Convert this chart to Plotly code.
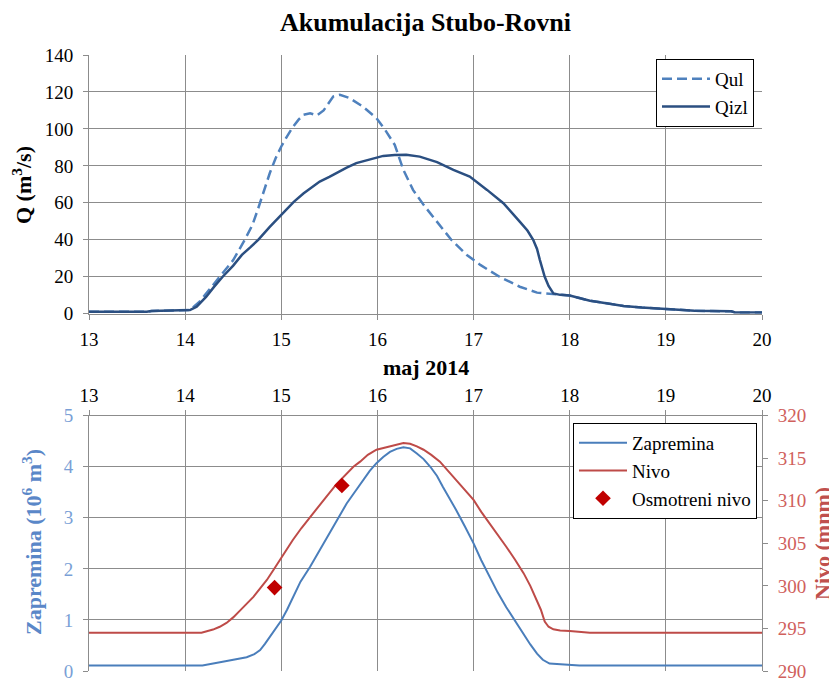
import plotly.graph_objects as go

# ---------------- data ----------------
qul_days = [13.0, 13.6, 13.65, 14.0, 14.05, 14.15, 14.25, 14.36, 14.5, 14.62, 14.70, 14.76, 14.82,
            14.88, 14.94, 15.0, 15.06, 15.12, 15.18, 15.23, 15.30, 15.37, 15.44, 15.54, 15.61, 15.71,
            15.85, 15.99, 16.08, 16.18, 16.27, 16.37, 16.48, 16.62, 16.77, 16.93, 17.07, 17.27, 17.48,
            17.66, 17.79, 17.9, 18.0, 18.1, 18.21, 18.28, 18.4, 18.56, 18.75, 19.01, 19.3, 19.68,
            19.72, 20.0]
qul_values = [1.0, 1.0, 1.5, 1.7, 2.0, 6.5, 13, 20, 29, 40, 48, 57, 67,
              76, 84, 90.5, 96, 101, 105, 107.6, 108.5, 107.3, 110, 117.5, 118.5, 116.7,
              112, 105.8, 99.5, 91.4, 77.8, 67, 58.9, 49.8, 39.9, 31.8, 26.4, 20, 14.6,
              11.4, 10.7, 10.2, 9.8, 8.5, 7.0, 6.5, 5.4, 4.2, 3.3, 2.4, 1.6, 1.3,
              0.7, 0.7]

qizl_days = [13.0, 13.6, 13.65, 14.0, 14.05, 14.12, 14.22, 14.3, 14.39, 14.5, 14.59, 14.68, 14.76,
             14.88, 15.04, 15.13, 15.23, 15.32, 15.40, 15.5, 15.57, 15.68, 15.78, 15.9, 16.06, 16.18,
             16.30, 16.44, 16.62, 16.79, 16.96, 17.14, 17.31, 17.48, 17.56, 17.62, 17.66, 17.69,
             17.74, 17.78, 17.83, 17.9, 18.0, 18.1, 18.21, 18.28, 18.4, 18.56, 18.75, 19.01, 19.3,
             19.68, 19.72, 20.0]
qizl_values = [1.0, 1.0, 1.5, 1.7, 2.0, 3.8, 9.2, 14.5, 20, 26, 31.8, 36, 40,
               47, 56, 60.5, 65, 68.5, 71.5, 74, 76, 79, 81.5, 83.3, 85.4, 85.9,
               86, 85, 82, 77.8, 74.2, 67, 59.8, 49.8, 45, 40, 35, 29,
               20, 15, 11, 10.2, 9.8, 8.5, 7.0, 6.5, 5.4, 4.2, 3.3, 2.4, 1.6,
               1.3, 0.7, 0.7]

zap_days = [13.0, 14.18, 14.39, 14.55, 14.64, 14.72, 14.78, 14.83, 14.88, 14.94, 15.0, 15.06, 15.12,
            15.2, 15.30, 15.40, 15.50, 15.59, 15.68, 15.77, 15.85, 15.92, 15.99, 16.06, 16.13, 16.2,
            16.27, 16.34, 16.41, 16.48, 16.55, 16.62, 16.68, 16.75, 16.82, 16.91, 17.0, 17.08, 17.17,
            17.25, 17.34, 17.43, 17.52, 17.59, 17.66, 17.72, 17.79, 18.0, 18.1, 20.0]
zap_values = [0.11, 0.11, 0.18, 0.24, 0.27, 0.33, 0.41, 0.53, 0.67, 0.83, 0.99, 1.2, 1.45,
              1.75, 2.04, 2.37, 2.69, 3.0, 3.28, 3.52, 3.74, 3.92, 4.07, 4.19, 4.29, 4.35,
              4.38, 4.36, 4.26, 4.15, 4.0, 3.82, 3.61, 3.39, 3.15, 2.83, 2.5, 2.17, 1.84,
              1.54, 1.25, 0.98, 0.73, 0.52, 0.34, 0.22, 0.145, 0.125, 0.11, 0.11]

nivo_days = [13.0, 14.17, 14.29, 14.36, 14.43, 14.50, 14.57, 14.64, 14.71, 14.78, 14.85, 14.92, 14.98,
             15.05, 15.12, 15.21, 15.30, 15.38, 15.47, 15.57, 15.68, 15.75, 15.82, 15.9, 15.99, 16.06,
             16.13, 16.2, 16.27, 16.34, 16.41, 16.48, 16.56, 16.65, 16.73, 16.82, 16.91, 17.0, 17.08,
             17.17, 17.25, 17.34, 17.43, 17.52, 17.59, 17.66, 17.70, 17.74, 17.78, 17.83, 17.9, 18.0,
             18.1, 18.21, 20.0]
nivo_values = [294.5, 294.5, 294.87, 295.2, 295.65, 296.3, 297.1, 297.9, 298.7, 299.7, 300.7, 301.9, 303.0,
               304.2, 305.4, 306.8, 308.1, 309.3, 310.5, 311.9, 313.2, 314.0, 314.6, 315.4, 316.0, 316.2,
               316.4, 316.6, 316.8, 316.7, 316.4, 316.0, 315.4, 314.6, 313.6, 312.4, 311.3, 310.1, 308.7,
               307.3, 306.0, 304.6, 303.1, 301.5, 300.0, 298.3, 297.2, 295.8, 295.2, 294.9, 294.75, 294.7,
               294.6, 294.5, 294.5]

osm_days = [14.93, 15.63]
osm_values = [299.8, 311.8]

day_ticks = [13, 14, 15, 16, 17, 18, 19, 20]

# ---------------- style / layout geometry ----------------
FONT = "Liberation Serif"
GRID = "#8C8C8C"
BLUE_L = "#4F81BD"
BLUE_D = "#2B4F81"
ZAP_C = "#4A7EBB"
NIV_C = "#BE4B48"
OSM_C = "#C00000"
LEFT_TICK_C = "#7A9FD6"
LEFT_TITLE_C = "#5A87C8"
RIGHT_TICK_C = "#D0605C"
RIGHT_TITLE_C = "#C0504D"

W, H = 837, 678
OFF = 8  # page body offset
ML, MR, MT, MB = 81, 83, 47, 15
PW = W - ML - MR
PH = H - MT - MB


def px(sx):
    return (sx - OFF - ML) / PW


def py(sy):
    return (H - MB - (sy - OFF)) / PH


fig = go.Figure()

fig.add_trace(go.Scatter(x=qul_days, y=qul_values, mode="lines", name="Qul",
                         line=dict(color=BLUE_L, width=2.5, dash="10px,5px"),
                         xaxis="x", yaxis="y", legend="legend"))
fig.add_trace(go.Scatter(x=qizl_days, y=qizl_values, mode="lines", name="Qizl",
                         line=dict(color=BLUE_D, width=2.5),
                         xaxis="x", yaxis="y", legend="legend"))

fig.add_trace(go.Scatter(x=zap_days, y=zap_values, mode="lines", name="Zapremina",
                         line=dict(color=ZAP_C, width=2),
                         xaxis="x2", yaxis="y2", legend="legend2"))
fig.add_trace(go.Scatter(x=nivo_days, y=nivo_values, mode="lines", name="Nivo",
                         line=dict(color=NIV_C, width=2),
                         xaxis="x2", yaxis="y3", legend="legend2"))
fig.add_trace(go.Scatter(x=osm_days, y=osm_values, mode="markers", name="Osmotreni nivo",
                         marker=dict(symbol="diamond", size=12, color=OSM_C),
                         xaxis="x2", yaxis="y3", legend="legend2"))

tickfont = dict(family=FONT, size=19, color="black")

xcommon = dict(range=[13, 20], tickvals=day_ticks, showgrid=True, gridcolor=GRID, gridwidth=1,
               showline=True, linecolor=GRID, linewidth=1, ticks="outside", ticklen=5,
               tickcolor=GRID, zeroline=False, tickfont=tickfont, domain=[0, 1],
               automargin=False)

top_dom = [py(313.7), 1.0]
bot_dom = [0.0, py(415.7)]

fig.update_layout(
    width=W, height=H,
    margin=dict(l=ML, r=MR, t=MT, b=MB, autoexpand=False),
    paper_bgcolor="white", plot_bgcolor="white",
    font=dict(family=FONT, size=19, color="black"),
    title=dict(text="<b>Akumulacija Stubo-Rovni</b>", x=0.5, xref="paper",
               y=1 - (22 - OFF) / H, yref="container", yanchor="middle", xanchor="center",
               font=dict(family=FONT, size=26, color="black")),
    xaxis=dict(**xcommon, anchor="y", ticklabelstandoff=3),
    yaxis=dict(domain=top_dom, range=[0, 140], dtick=20, showgrid=True, gridcolor=GRID,
               showline=True, linecolor=GRID, ticks="outside", ticklen=5, tickcolor=GRID,
               zeroline=False, tickfont=tickfont, anchor="x", ticklabelstandoff=6,
               automargin=False),
    xaxis2=dict(**xcommon, anchor="y2", side="top"),
    yaxis2=dict(domain=bot_dom, range=[0, 5], dtick=1, showgrid=True, gridcolor=GRID,
                showline=True, linecolor=GRID, ticks="outside", ticklen=5, tickcolor=GRID,
                zeroline=False, tickfont=dict(family=FONT, size=19, color=LEFT_TICK_C),
                anchor="x2", ticklabelstandoff=6, automargin=False),
    yaxis3=dict(overlaying="y2", side="right", range=[290, 320], dtick=5, showgrid=False,
                showline=True, linecolor=GRID, ticks="outside", ticklen=5, tickcolor=GRID,
                zeroline=False, tickfont=dict(family=FONT, size=19, color=RIGHT_TICK_C),
                anchor="x2", ticklabelstandoff=6, automargin=False),
    legend=dict(x=px(754), y=py(59), xanchor="right", yanchor="top", bgcolor="white",
                bordercolor="black", borderwidth=1, itemwidth=48,
                font=dict(family=FONT, size=19, color="black")),
    legend2=dict(x=px(757), y=py(423), xanchor="right", yanchor="top", bgcolor="white",
                 bordercolor="black", borderwidth=1, itemwidth=48,
                 font=dict(family=FONT, size=19, color="black")),
    showlegend=True,
)

fig.add_annotation(text="<b>maj 2014</b>", xref="paper", yref="paper", x=0.5,
                   y=py(367), xanchor="center", yanchor="middle", showarrow=False,
                   font=dict(family=FONT, size=22, color="black"))
fig.add_annotation(text="<b>Q (m<sup>3</sup>/s)</b>", xref="paper", yref="paper",
                   x=px(22), y=py(185), xanchor="center", yanchor="middle",
                   textangle=-90, showarrow=False, font=dict(family=FONT, size=22, color="black"))
fig.add_annotation(text="<b>Zapremina (10<sup>6</sup> m<sup>3</sup>)</b>", xref="paper", yref="paper",
                   x=px(32), y=py(542), xanchor="center", yanchor="middle",
                   textangle=-90, showarrow=False, font=dict(family=FONT, size=22, color=LEFT_TITLE_C))
fig.add_annotation(text="<b>Nivo (mnm)</b>", xref="paper", yref="paper",
                   x=px(822), y=py(543), xanchor="center", yanchor="middle",
                   textangle=-90, showarrow=False, font=dict(family=FONT, size=22, color=RIGHT_TITLE_C))

fig.write_html("out.html")
